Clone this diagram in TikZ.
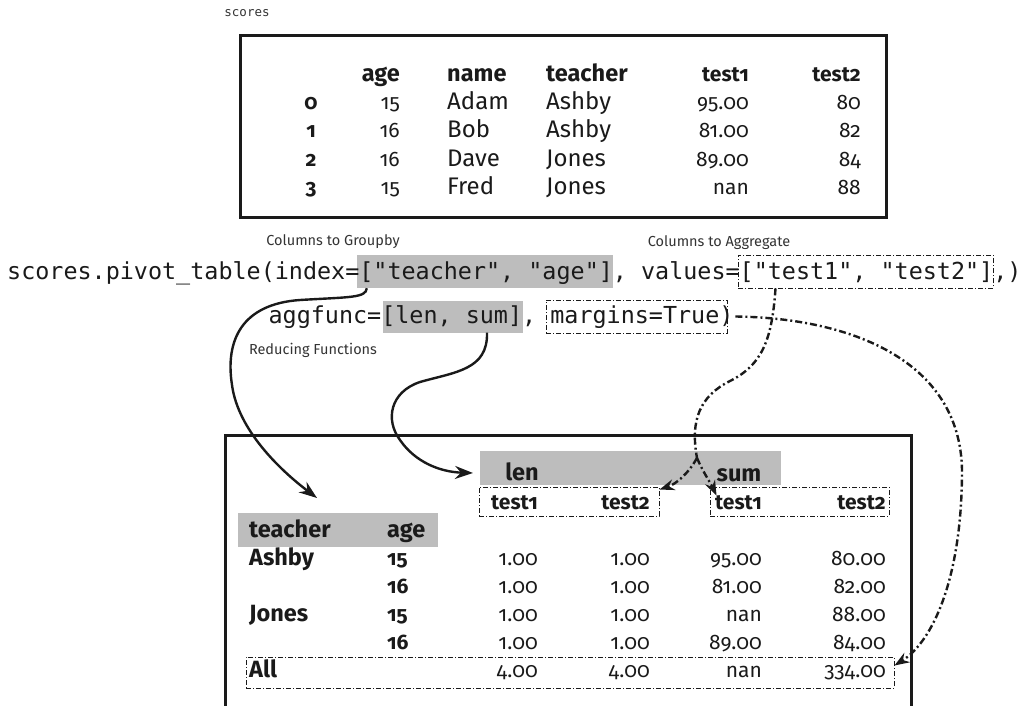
\documentclass[tikz,border=0pt]{standalone}
\usepackage{fontspec}
\setmainfont{Fira Sans}[Numbers=OldStyle]
\newfontfamily\codefont{DejaVu Sans Mono}
\usetikzlibrary{arrows.meta}
\definecolor{ink}{HTML}{1A1A1A}
\definecolor{hlgray}{HTML}{BDBDBD}
\definecolor{lblgray}{HTML}{333333}
% words and figures are set at slightly different sizes
\newcommand\wdfont{\fontsize{24}{28}\selectfont}
\newcommand\bwdfont{\fontsize{23.5}{28}\selectfont\bfseries}
\newcommand\nmfont{\fontsize{21}{25}\selectfont}
\newcommand\cdfont{\codefont\fontsize{23.4}{28}\selectfont}
\newcommand\lblfont{\fontsize{14.5}{17}\selectfont}
\newcommand\usc{{\char95}}
\tikzset{
  cell/.style={inner sep=0pt, font=\wdfont, text=ink},
  hcell/.style={inner sep=0pt, font=\bwdfont, text=ink},
  ncell/.style={inner sep=0pt, font=\nmfont, text=ink},
  bncell/.style={inner sep=0pt, font=\nmfont\bfseries, text=ink},
  rt/.style={anchor=base east},
  lf/.style={anchor=base west},
  ct/.style={anchor=base},
  frame/.style={draw=ink, line width=3pt, inner sep=0pt},
  hilite/.style={fill=hlgray, draw=none, inner sep=0pt},
  ddbox/.style={draw=ink, line width=0.9pt, inner sep=0pt,
    dash pattern=on 5pt off 2pt on 1pt off 2pt},
  lbl/.style={inner sep=0pt, font=\lblfont, text=lblgray},
  solidarrow/.style={draw=ink, line width=2.4pt,
    -{Stealth[length=18pt,width=13pt,inset=6pt]}},
  ddarrow/.style={draw=ink, line width=2.4pt,
    dash pattern=on 7pt off 3pt on 2pt off 3pt,
    -{Stealth[length=15pt,width=11pt,inset=5pt]}},
}
\begin{document}
\begin{tikzpicture}[x=1pt,y=-1pt]
\useasboundingbox (0,0) rectangle (1020,706);

% ---------- source frame: scores ----------
\node[lbl, anchor=base, font=\codefont\fontsize{12.5}{15}\selectfont] (title) at (247,17) {scores};
\node[frame, minimum width=646pt, minimum height=181pt] (topframe) at (563,126.5) {};

\node[hcell, rt] (h-age) at (400,82) {age};
\node[hcell, lf] (h-name) at (447,82) {name};
\node[hcell, lf] (h-teacher) at (546,82) {teacher};
\node[bncell, rt] (h-t1) at (749,82) {test1};
\node[bncell, rt] (h-t2) at (861,82) {test2};

\foreach \i/\y/\age/\nm/\tc/\ta/\tb in {0/110/15/Adam/Ashby/95.00/80,
                                       1/138/16/Bob/Ashby/81.00/82,
                                       2/166/16/Dave/Jones/89.00/84,
                                       3/194/15/Fred/Jones/nan/88}{
  \node[bncell, ct] (ix\i) at (311,\y) {\i};
  \node[ncell, rt] (age\i) at (400,\y) {\age};
  \node[cell, lf] (nm\i) at (447,\y) {\nm};
  \node[cell, lf] (tc\i) at (546,\y) {\tc};
  \node[ncell, rt] (ta\i) at (749,\y) {\ta};
  \node[ncell, rt] (tb\i) at (861,\y) {\tb};
}

% ---------- the call ----------
\node[hilite, minimum width=256pt, minimum height=33pt] (idxhl) at (485,271.5) {};
\node[hilite, minimum width=140pt, minimum height=32pt] (aggfhl) at (453,316.5) {};
\node[ddbox, minimum width=255pt, minimum height=33pt] (valbox) at (865.5,271.5) {};
\node[ddbox, minimum width=181pt, minimum height=33pt] (marbox) at (636.5,316.5) {};

\node[inner sep=0pt, anchor=base west, font=\cdfont, text=ink] (code1) at (7,279)
  {scores.pivot\usc table(index=["teacher", "age"], values=["test1", "test2"],)};
\node[inner sep=0pt, anchor=base west, font=\cdfont, text=ink] (code2) at (268.4,323)
  {aggfunc=[len, sum], margins=True)};

\node[lbl, anchor=base] (grplbl) at (333,245) {Columns to Groupby};
\node[lbl, anchor=base] (agglbl) at (719,246) {Columns to Aggregate};
\node[lbl, anchor=base] (redlbl) at (313,354) {Reducing Functions};

% ---------- result frame: pivot table ----------
\node[frame, minimum width=686pt, minimum height=273pt] (botframe) at (568,571.5) {};

\node[hilite, minimum width=301pt, minimum height=34pt] (lensum) at (630.5,468) {};
\node[hilite, minimum width=200pt, minimum height=34pt] (teachhl) at (338,530) {};
\node[ddbox, minimum width=180pt, minimum height=29pt] (lenbox) at (569,501.5) {};
\node[ddbox, minimum width=179pt, minimum height=29pt] (sumbox) at (799.5,501.5) {};
\node[ddbox, minimum width=648pt, minimum height=31pt] (allbox) at (570,672.5) {};

\node[hcell, ct] (p-len) at (522,480) {len};
\node[hcell, ct] (p-sum) at (739,481) {sum};
\node[bncell, rt] (p-l1) at (538,509) {test1};
\node[bncell, rt] (p-l2) at (650,509) {test2};
\node[bncell, rt] (p-s1) at (762,509) {test1};
\node[bncell, rt] (p-s2) at (886,509) {test2};
\node[hcell, lf] (p-teacher) at (249,537) {teacher};
\node[hcell, lf] (p-age) at (387,537) {age};

\node[hcell, lf] (r-ashby) at (249,565) {Ashby};
\node[hcell, lf] (r-jones) at (249,621) {Jones};
\node[hcell, lf] (r-all) at (249,677) {All};

\foreach \i/\y/\ag/\a/\b/\c/\d in {1/565/15/1.00/1.00/95.00/80.00,
                                   2/593/16/1.00/1.00/81.00/82.00,
                                   3/621/15/1.00/1.00/nan/88.00,
                                   4/649/16/1.00/1.00/89.00/84.00}{
  \node[bncell, lf] (ra\i) at (387,\y) {\ag};
  \node[ncell, rt] (rb\i) at (538,\y) {\a};
  \node[ncell, rt] (rc\i) at (650,\y) {\b};
  \node[ncell, rt] (rd\i) at (762,\y) {\c};
  \node[ncell, rt] (re\i) at (886,\y) {\d};
}
\node[ncell, rt] (tot1) at (538,677) {4.00};
\node[ncell, rt] (tot2) at (650,677) {4.00};
\node[ncell, rt] (tot3) at (762,677) {nan};
\node[ncell, rt] (tot4) at (886,677) {334.00};

% ---------- connectors ----------
\coordinate (grpend) at (317,498);
\coordinate (redend) at (473,473);
\coordinate (split) at (697,458);

\draw[solidarrow] ([xshift=10pt]idxhl.south west)
  .. controls (366,298) and (350,297) .. (300,300)
  .. controls (242,304) and (225,340) .. (232,385)
  .. controls (238,430) and (280,470) .. (grpend);

\draw[solidarrow] ([xshift=34pt]aggfhl.south)
  .. controls (488,370) and (455,372) .. (420,382)
  .. controls (390,392) and (385,420) .. (400,440)
  .. controls (415,462) and (440,472) .. (redend);

\draw[draw=ink, line width=2.4pt, dash pattern=on 7pt off 3pt on 2pt off 3pt]
  ([xshift=-90pt]valbox.south)
  .. controls (772,340) and (762,365) .. (730,381)
  .. controls (700,396) and (690,420) .. (split);
\draw[ddarrow] (split) .. controls (688,474) and (676,484) .. ([yshift=-3pt]lenbox.north east);
\draw[ddarrow] (split) .. controls (703,472) and (710,482) .. ([xshift=7pt,yshift=-9pt]sumbox.north west);

\draw[ddarrow] ([xshift=8pt]marbox.east)
  .. controls (850,318) and (960,360) .. (962,470)
  .. controls (962,580) and (932,642) .. ([yshift=7pt]allbox.east);
\end{tikzpicture}
\end{document}
